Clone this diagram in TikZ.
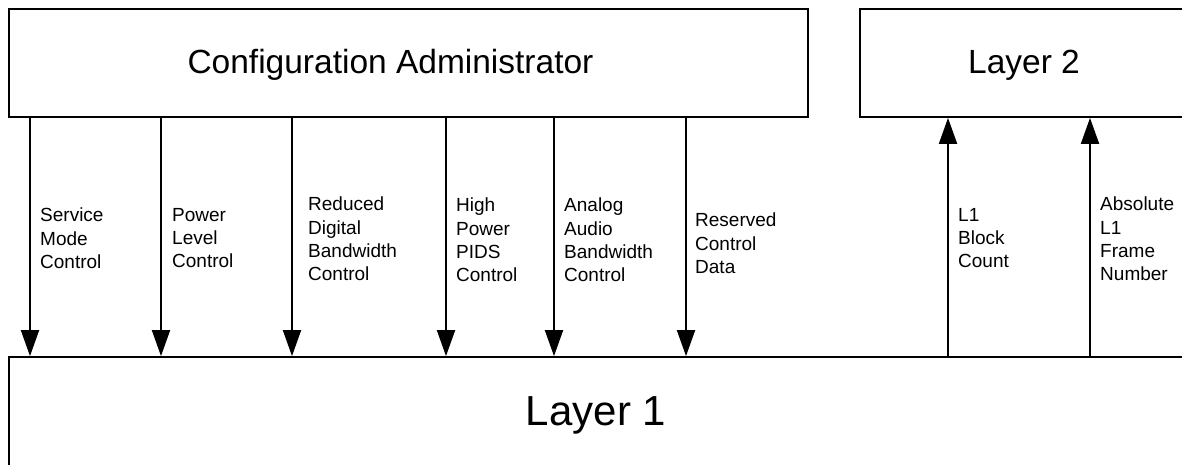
\documentclass[tikz,border=0pt]{standalone}
\usepackage{fontspec}
\setmainfont{Liberation Sans}
\usetikzlibrary{arrows.meta}
\begin{document}
\begin{tikzpicture}[x=1pt,y=-1pt,
  box/.style={draw,line width=1.8pt,inner sep=0pt,minimum height=108pt},
  bigtext/.style={font=\fontsize{33.5}{40}\selectfont,inner sep=0pt},
  sig/.style={align=left,anchor=north west,inner sep=0pt,font=\fontsize{19}{23.2}\selectfont},
  arr/.style={line width=1.9pt,-{Triangle[length=26pt,width=18pt]}}]
\useasboundingbox (0,0) rectangle (1182,465);
\clip (0,0) rectangle (1182,465);
% boxes
\node[box,minimum width=799pt] (ca) at (408.5,63) {};
\node[bigtext,anchor=base] (catext) at (390.5,74) {Configuration Administrator};
\node[box,minimum width=328pt] (l2) at (1024,63) {};
\node[bigtext,anchor=base] (l2text) at (1024,74) {Layer 2};
\node[box,minimum width=1174pt,minimum height=120pt] (l1) at (596,417) {};
\node[bigtext,anchor=base,font=\fontsize{42}{48}\selectfont] (l1text) at (596,425) {Layer 1};
% arrow positions
\coordinate (x1) at (30,0);
\coordinate (x2) at (161,0);
\coordinate (x3) at (292,0);
\coordinate (x4) at (446,0);
\coordinate (x5) at (554,0);
\coordinate (x6) at (686,0);
\coordinate (x7) at (948,0);
\coordinate (x8) at (1090,0);
% downward signals
\foreach \c in {x1,x2,x3,x4,x5,x6}
  \draw[arr] (ca.south -| \c) -- (l1.north -| \c);
% upward signals
\foreach \c in {x7,x8}
  \draw[arr] (l1.north -| \c) -- (l2.south -| \c);
% labels
\node[sig] (s1) at (40,208) {Service\\Mode\\Control};
\node[sig] (s2) at (172,208) {Power\\Level\\Control};
\node[sig] (s3) at (308,197) {Reduced\\Digital\\Bandwidth\\Control};
\node[sig] (s4) at (456,198) {High\\Power\\PIDS\\Control};
\node[sig] (s5) at (564,198) {Analog\\Audio\\Bandwidth\\Control};
\node[sig] (s6) at (695,213) {Reserved\\Control\\Data};
\node[sig] (s7) at (958,208) {L1\\Block\\Count};
\node[sig] (s8) at (1100,197) {Absolute\\L1\\Frame\\Number};
\end{tikzpicture}
\end{document}
